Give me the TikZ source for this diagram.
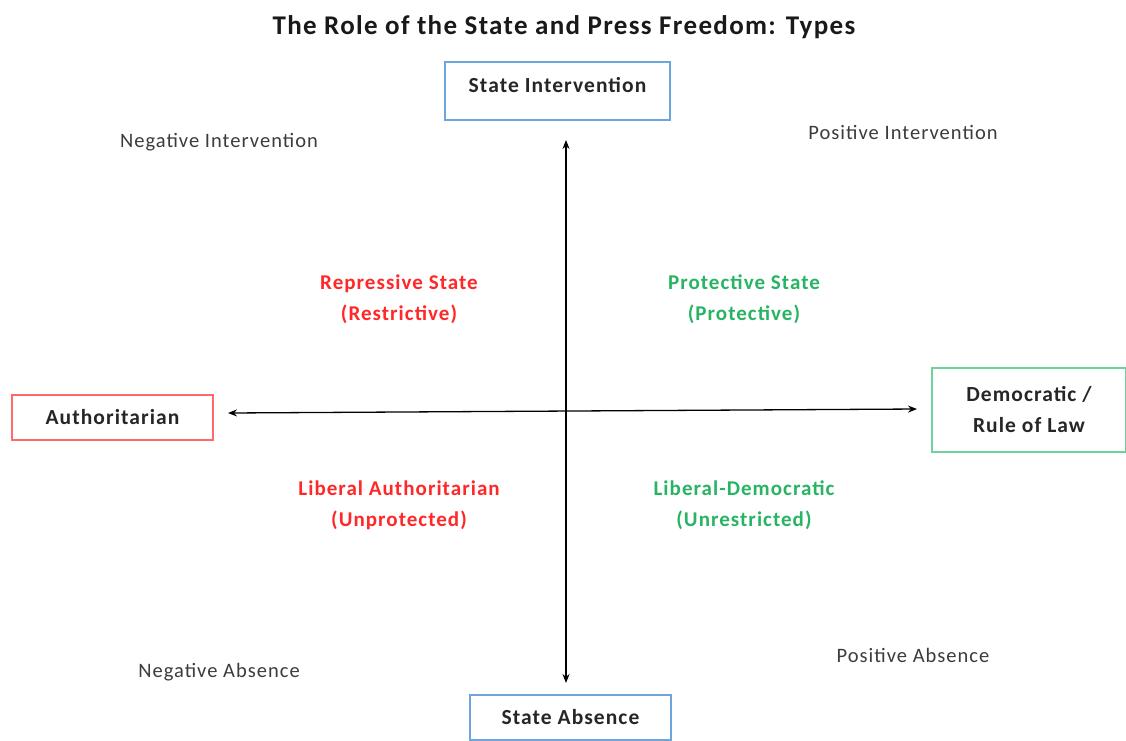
\documentclass[tikz,border=0pt]{standalone}
\usepackage{fontspec}
\setmainfont{Carlito}[LetterSpace=5]
\usetikzlibrary{arrows.meta}
\definecolor{boxblue}{RGB}{110,165,220}
\definecolor{boxred}{RGB}{255,105,105}
\definecolor{boxgreen}{RGB}{110,210,155}
\definecolor{txtred}{RGB}{255,40,40}
\definecolor{txtgreen}{RGB}{40,180,100}
\definecolor{txtgray}{RGB}{60,60,60}
\tikzset{
  axisbox/.style={draw, line width=1.5pt, inner sep=0pt, align=center, font=\fontsize{21.5}{31}\selectfont\bfseries, text=black!85},
  cornerlabel/.style={font=\fontsize{20.5}{22}\selectfont, text=txtgray},
  quadred/.style={font=\fontsize{21}{31}\selectfont\bfseries, text=txtred, align=center},
  quadgreen/.style={font=\fontsize{21}{31}\selectfont\bfseries, text=txtgreen, align=center},
  axisarrow/.style={line width=1.3pt, {Stealth[length=9pt,width=7pt]}-{Stealth[length=9pt,width=7pt]}}
}
\begin{document}
\begin{tikzpicture}[x=1pt,y=-1pt]
\useasboundingbox[fill=white] (0,0) rectangle (1126,740);
\node[font=\fontsize{27}{30}\selectfont\bfseries, text=black!90] (title) at (564,27) {The Role of the State and Press Freedom: Types};
% boxes
\node[axisbox, draw=boxblue, minimum width=225pt, text height=30pt, text depth=28pt] (si) at (557.5,91) {State Intervention};
\node[axisbox, draw=boxblue, minimum width=201pt, minimum height=45pt] (sa) at (570.5,717.5) {State Absence};
\node[axisbox, draw=boxred, minimum width=201pt, minimum height=45pt] (au) at (112.5,417.5) {Authoritarian};
\node[axisbox, draw=boxgreen, minimum width=194pt, minimum height=84pt] (dem) at (1029,410) {Democratic /\\Rule of Law};
% axis ends
\coordinate (top) at (566,140);
\coordinate (bottom) at (566,683);
\coordinate (left) at (228,413);
\coordinate (right) at (917,409);
\draw[axisarrow] (bottom) -- (top);
\draw[axisarrow] (left) -- (right);
% corner labels
\node[cornerlabel] (ni) at (219,142) {Negative Intervention};
\node[cornerlabel] (pi) at (903,132) {Positive Intervention};
\node[cornerlabel] (na) at (219,672) {Negative Absence};
\node[cornerlabel] (pa) at (913,655) {Positive Absence};
% quadrants
\node[quadred] (rs) at (399,299) {Repressive State\\(Restrictive)};
\node[quadgreen] (ps) at (744,299) {Protective State\\(Protective)};
\node[quadred] (la) at (399,505) {Liberal Authoritarian\\(Unprotected)};
\node[quadgreen] (ld) at (744,505) {Liberal-Democratic\\(Unrestricted)};
\end{tikzpicture}
\end{document}
